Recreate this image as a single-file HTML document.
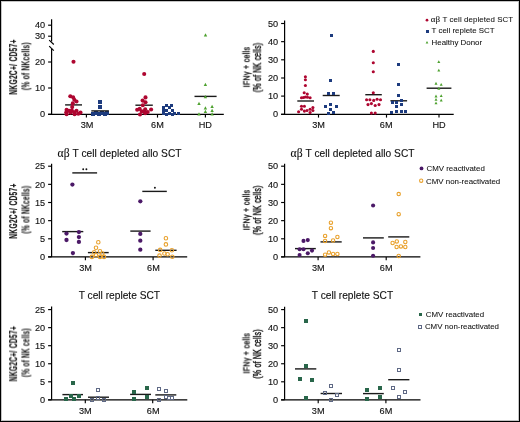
<!DOCTYPE html><html><head><meta charset="utf-8"><style>html,body{margin:0;padding:0;background:#fff;overflow:hidden;width:520px;height:422px;}svg{display:block;}text{font-family:"Liberation Sans", sans-serif;fill:#111;will-change:transform;}</style></head><body>
<svg width="520" height="422" viewBox="0 0 520 422">
<rect x="0" y="0" width="520" height="422" fill="#fff"/>
<rect x="1.5" y="1.5" width="517" height="419" fill="none" stroke="#c4c4c4" stroke-width="1"/>
<rect x="0.5" y="0.5" width="519" height="421" fill="none" stroke="#000" stroke-width="1"/>
<line x1="51.6" y1="19.3" x2="51.6" y2="41.4" stroke="#000" stroke-width="1.2"/>
<line x1="51.6" y1="48.8" x2="51.6" y2="114.3" stroke="#000" stroke-width="1.2"/>
<line x1="48.1" y1="25.2" x2="51.6" y2="25.2" stroke="#000" stroke-width="1.15"/>
<text transform="translate(45.2,28.349999999999998) scale(1.08,1)" font-size="8.5" text-anchor="end" stroke="#111" stroke-width="0.12">40</text>
<line x1="48.1" y1="36.2" x2="51.6" y2="36.2" stroke="#000" stroke-width="1.15"/>
<text transform="translate(45.2,39.35) scale(1.08,1)" font-size="8.5" text-anchor="end" stroke="#111" stroke-width="0.12">30</text>
<line x1="48.1" y1="62.0" x2="51.6" y2="62.0" stroke="#000" stroke-width="1.15"/>
<text transform="translate(45.2,65.15) scale(1.08,1)" font-size="8.5" text-anchor="end" stroke="#111" stroke-width="0.12">20</text>
<line x1="48.1" y1="88.0" x2="51.6" y2="88.0" stroke="#000" stroke-width="1.15"/>
<text transform="translate(45.2,91.15) scale(1.08,1)" font-size="8.5" text-anchor="end" stroke="#111" stroke-width="0.12">10</text>
<line x1="48.1" y1="114.3" x2="51.6" y2="114.3" stroke="#000" stroke-width="1.15"/>
<text transform="translate(45.2,117.45) scale(1.08,1)" font-size="8.5" text-anchor="end" stroke="#111" stroke-width="0.12">0</text>
<line x1="49.2" y1="40.1" x2="53.8" y2="44.5" stroke="#000" stroke-width="1.15"/>
<line x1="49.2" y1="46.2" x2="53.8" y2="50.6" stroke="#000" stroke-width="1.15"/>
<line x1="48.1" y1="114.3" x2="223.8" y2="114.3" stroke="#000" stroke-width="1.35"/>
<line x1="86.4" y1="114.3" x2="86.4" y2="117.6" stroke="#000" stroke-width="1.15"/>
<line x1="157.5" y1="114.3" x2="157.5" y2="117.6" stroke="#000" stroke-width="1.15"/>
<line x1="205.4" y1="114.3" x2="205.4" y2="117.6" stroke="#000" stroke-width="1.15"/>
<text transform="translate(87.0,128.0) scale(1.08,1)" font-size="8.5" text-anchor="middle" stroke="#111" stroke-width="0.12">3M</text>
<text transform="translate(157.4,128.0) scale(1.08,1)" font-size="8.5" text-anchor="middle" stroke="#111" stroke-width="0.12">6M</text>
<text transform="translate(205.3,128.0) scale(1.08,1)" font-size="8.5" text-anchor="middle" stroke="#111" stroke-width="0.12">HD</text>
<text transform="translate(17.1,66.9) rotate(-90)" x="0" y="0" font-size="10.0" letter-spacing="0.5" font-weight="bold" stroke="#111" stroke-width="0.2" text-anchor="middle" textLength="55.5" lengthAdjust="spacingAndGlyphs">NKG2C+/ CD57+</text>
<text transform="translate(29.4,66.2) rotate(-90)" x="0" y="0" font-size="10.4" letter-spacing="0.3" font-weight="bold" stroke="#111" stroke-width="0.05" text-anchor="middle" textLength="48.0" lengthAdjust="spacingAndGlyphs">(% of NKcells)</text>
<line x1="65.1" y1="104.9" x2="82.0" y2="104.9" stroke="#1a1a1a" stroke-width="1.4"/>
<line x1="135.4" y1="105.2" x2="152.8" y2="105.2" stroke="#1a1a1a" stroke-width="1.4"/>
<line x1="194.5" y1="96.4" x2="216.6" y2="96.4" stroke="#1a1a1a" stroke-width="1.4"/>
<circle cx="73.5" cy="61.8" r="2.05" fill="#ae0630"/>
<circle cx="70.3" cy="96.3" r="2.05" fill="#ae0630"/>
<circle cx="73.1" cy="97.2" r="2.05" fill="#ae0630"/>
<circle cx="74.3" cy="99.7" r="2.05" fill="#ae0630"/>
<circle cx="76.5" cy="101.5" r="2.05" fill="#ae0630"/>
<circle cx="72.8" cy="103.4" r="2.05" fill="#ae0630"/>
<circle cx="72.2" cy="107.1" r="2.05" fill="#ae0630"/>
<circle cx="66.6" cy="109.8" r="2.05" fill="#ae0630"/>
<circle cx="69.1" cy="110.8" r="2.05" fill="#ae0630"/>
<circle cx="71.8" cy="110.5" r="2.05" fill="#ae0630"/>
<circle cx="76.5" cy="110.8" r="2.05" fill="#ae0630"/>
<circle cx="66.3" cy="112.3" r="2.05" fill="#ae0630"/>
<circle cx="70.6" cy="112.6" r="2.05" fill="#ae0630"/>
<circle cx="74.3" cy="112.3" r="2.05" fill="#ae0630"/>
<circle cx="80.5" cy="112.6" r="2.05" fill="#ae0630"/>
<circle cx="66.6" cy="114.2" r="2.05" fill="#ae0630"/>
<circle cx="74.6" cy="114.2" r="2.05" fill="#ae0630"/>
<circle cx="78.3" cy="113.8" r="2.05" fill="#ae0630"/>
<rect x="98" y="100" width="4" height="4" fill="#1d3b7e"/>
<rect x="98" y="105" width="4" height="4" fill="#1d3b7e"/>
<rect x="91" y="112" width="4" height="4" fill="#1d3b7e"/>
<rect x="94" y="111" width="4" height="4" fill="#1d3b7e"/>
<rect x="97" y="112" width="4" height="4" fill="#1d3b7e"/>
<rect x="100" y="111" width="4" height="4" fill="#1d3b7e"/>
<rect x="103" y="112" width="4" height="4" fill="#1d3b7e"/>
<rect x="105" y="111" width="4" height="4" fill="#1d3b7e"/>
<line x1="91.3" y1="110.9" x2="108.9" y2="110.9" stroke="#1a1a1a" stroke-width="1.4"/>
<circle cx="144.2" cy="74.0" r="2.05" fill="#ae0630"/>
<circle cx="145.5" cy="97.4" r="2.05" fill="#ae0630"/>
<circle cx="142.6" cy="100.6" r="2.05" fill="#ae0630"/>
<circle cx="145.5" cy="102.2" r="2.05" fill="#ae0630"/>
<circle cx="142.8" cy="105.2" r="2.05" fill="#ae0630"/>
<circle cx="137.2" cy="109.8" r="2.05" fill="#ae0630"/>
<circle cx="139.7" cy="108.9" r="2.05" fill="#ae0630"/>
<circle cx="145.2" cy="109.2" r="2.05" fill="#ae0630"/>
<circle cx="151.1" cy="109.5" r="2.05" fill="#ae0630"/>
<circle cx="141.8" cy="111.4" r="2.05" fill="#ae0630"/>
<circle cx="144.3" cy="111.7" r="2.05" fill="#ae0630"/>
<circle cx="147.7" cy="112.0" r="2.05" fill="#ae0630"/>
<circle cx="140.0" cy="114.5" r="2.05" fill="#ae0630"/>
<circle cx="145.2" cy="113.2" r="2.05" fill="#ae0630"/>
<rect x="165" y="104" width="3" height="3" fill="#1d3b7e"/>
<rect x="170" y="104" width="3" height="3" fill="#1d3b7e"/>
<rect x="162" y="106" width="3" height="3" fill="#1d3b7e"/>
<rect x="168" y="106" width="3" height="3" fill="#1d3b7e"/>
<rect x="162" y="109" width="3" height="3" fill="#1d3b7e"/>
<rect x="165" y="109" width="3" height="3" fill="#1d3b7e"/>
<rect x="171" y="109" width="3" height="3" fill="#1d3b7e"/>
<rect x="162" y="112" width="3" height="3" fill="#1d3b7e"/>
<rect x="168" y="112" width="3" height="3" fill="#1d3b7e"/>
<rect x="173" y="112" width="3" height="3" fill="#1d3b7e"/>
<rect x="177" y="112" width="3" height="3" fill="#1d3b7e"/>
<rect x="165" y="113" width="3" height="3" fill="#1d3b7e"/>
<rect x="171" y="113" width="3" height="3" fill="#1d3b7e"/>
<polygon points="205.50,33.16 203.80,36.39 207.20,36.39" fill="#4da12e"/>
<polygon points="205.40,82.86 203.70,86.09 207.10,86.09" fill="#4da12e"/>
<polygon points="205.40,94.96 203.70,98.19 207.10,98.19" fill="#4da12e"/>
<polygon points="199.00,101.86 197.30,105.09 200.70,105.09" fill="#4da12e"/>
<polygon points="205.40,106.16 203.70,109.39 207.10,109.39" fill="#4da12e"/>
<polygon points="205.40,109.86 203.70,113.09 207.10,113.09" fill="#4da12e"/>
<polygon points="212.10,104.66 210.40,107.89 213.80,107.89" fill="#4da12e"/>
<polygon points="212.10,108.66 210.40,111.89 213.80,111.89" fill="#4da12e"/>
<polygon points="199.00,112.36 197.30,115.59 200.70,115.59" fill="#4da12e"/>
<polygon points="212.10,112.36 210.40,115.59 213.80,115.59" fill="#4da12e"/>
<line x1="284.6" y1="20.5" x2="284.6" y2="114.3" stroke="#000" stroke-width="1.2"/>
<line x1="281.1" y1="23.5" x2="284.6" y2="23.5" stroke="#000" stroke-width="1.15"/>
<text transform="translate(278.20000000000005,26.65) scale(1.08,1)" font-size="8.5" text-anchor="end" stroke="#111" stroke-width="0.12">50</text>
<line x1="281.1" y1="41.66" x2="284.6" y2="41.66" stroke="#000" stroke-width="1.15"/>
<text transform="translate(278.20000000000005,44.809999999999995) scale(1.08,1)" font-size="8.5" text-anchor="end" stroke="#111" stroke-width="0.12">40</text>
<line x1="281.1" y1="59.8" x2="284.6" y2="59.8" stroke="#000" stroke-width="1.15"/>
<text transform="translate(278.20000000000005,62.949999999999996) scale(1.08,1)" font-size="8.5" text-anchor="end" stroke="#111" stroke-width="0.12">30</text>
<line x1="281.1" y1="78.0" x2="284.6" y2="78.0" stroke="#000" stroke-width="1.15"/>
<text transform="translate(278.20000000000005,81.15) scale(1.08,1)" font-size="8.5" text-anchor="end" stroke="#111" stroke-width="0.12">20</text>
<line x1="281.1" y1="96.1" x2="284.6" y2="96.1" stroke="#000" stroke-width="1.15"/>
<text transform="translate(278.20000000000005,99.25) scale(1.08,1)" font-size="8.5" text-anchor="end" stroke="#111" stroke-width="0.12">10</text>
<line x1="281.1" y1="114.3" x2="284.6" y2="114.3" stroke="#000" stroke-width="1.15"/>
<text transform="translate(278.20000000000005,117.45) scale(1.08,1)" font-size="8.5" text-anchor="end" stroke="#111" stroke-width="0.12">0</text>
<line x1="281.1" y1="114.3" x2="453.7" y2="114.3" stroke="#000" stroke-width="1.35"/>
<line x1="318.5" y1="114.3" x2="318.5" y2="117.6" stroke="#000" stroke-width="1.15"/>
<line x1="386.5" y1="114.3" x2="386.5" y2="117.6" stroke="#000" stroke-width="1.15"/>
<line x1="439.0" y1="114.3" x2="439.0" y2="117.6" stroke="#000" stroke-width="1.15"/>
<text transform="translate(318.5,128.0) scale(1.08,1)" font-size="8.5" text-anchor="middle" stroke="#111" stroke-width="0.12">3M</text>
<text transform="translate(386.2,128.0) scale(1.08,1)" font-size="8.5" text-anchor="middle" stroke="#111" stroke-width="0.12">6M</text>
<text transform="translate(439.0,128.0) scale(1.08,1)" font-size="8.5" text-anchor="middle" stroke="#111" stroke-width="0.12">HD</text>
<text transform="translate(249.5,67.1) rotate(-90)" x="0" y="0" font-size="9.9" letter-spacing="0.4" stroke="#111" stroke-width="0.42" text-anchor="middle" textLength="40.5" lengthAdjust="spacingAndGlyphs">IFN&#947; + cells</text>
<text transform="translate(261.0,67.5) rotate(-90)" x="0" y="0" font-size="10.4" letter-spacing="0.3" stroke="#111" stroke-width="0.42" text-anchor="middle" textLength="49.5" lengthAdjust="spacingAndGlyphs">(% of NK cells)</text>
<line x1="297.3" y1="101.0" x2="314.0" y2="101.0" stroke="#1a1a1a" stroke-width="1.4"/>
<line x1="322.7" y1="95.5" x2="339.7" y2="95.5" stroke="#1a1a1a" stroke-width="1.4"/>
<line x1="365.3" y1="94.7" x2="381.8" y2="94.7" stroke="#1a1a1a" stroke-width="1.4"/>
<line x1="390.4" y1="100.8" x2="407.1" y2="100.8" stroke="#1a1a1a" stroke-width="1.4"/>
<line x1="426.6" y1="88.2" x2="451.4" y2="88.2" stroke="#1a1a1a" stroke-width="1.4"/>
<circle cx="305.4" cy="76.7" r="1.55" fill="#ae0630"/>
<circle cx="305.4" cy="79.8" r="1.55" fill="#ae0630"/>
<circle cx="305.4" cy="85.5" r="1.55" fill="#ae0630"/>
<circle cx="304.2" cy="92.8" r="1.55" fill="#ae0630"/>
<circle cx="307.3" cy="94.1" r="1.55" fill="#ae0630"/>
<circle cx="301.5" cy="97.8" r="1.55" fill="#ae0630"/>
<circle cx="303.5" cy="97.5" r="1.55" fill="#ae0630"/>
<circle cx="305.4" cy="97.0" r="1.55" fill="#ae0630"/>
<circle cx="307.5" cy="97.3" r="1.55" fill="#ae0630"/>
<circle cx="310.1" cy="97.8" r="1.55" fill="#ae0630"/>
<circle cx="301.5" cy="106.2" r="1.55" fill="#ae0630"/>
<circle cx="304.4" cy="106.2" r="1.55" fill="#ae0630"/>
<circle cx="312.9" cy="107.6" r="1.55" fill="#ae0630"/>
<circle cx="301.5" cy="109.3" r="1.55" fill="#ae0630"/>
<circle cx="304.4" cy="111.1" r="1.55" fill="#ae0630"/>
<circle cx="307.0" cy="110.5" r="1.55" fill="#ae0630"/>
<circle cx="310.1" cy="109.3" r="1.55" fill="#ae0630"/>
<circle cx="312.9" cy="110.5" r="1.55" fill="#ae0630"/>
<circle cx="298.6" cy="111.8" r="1.55" fill="#ae0630"/>
<circle cx="310.1" cy="112.6" r="1.55" fill="#ae0630"/>
<rect x="330" y="34" width="3" height="3" fill="#1d3b7e"/>
<rect x="329" y="79" width="3" height="3" fill="#1d3b7e"/>
<rect x="327" y="92" width="3" height="3" fill="#1d3b7e"/>
<rect x="332" y="92" width="3" height="3" fill="#1d3b7e"/>
<rect x="324" y="105" width="3" height="3" fill="#1d3b7e"/>
<rect x="329" y="103" width="3" height="3" fill="#1d3b7e"/>
<rect x="335" y="105" width="3" height="3" fill="#1d3b7e"/>
<rect x="329" y="108" width="3" height="3" fill="#1d3b7e"/>
<rect x="332" y="111" width="3" height="3" fill="#1d3b7e"/>
<rect x="327" y="112" width="3" height="3" fill="#1d3b7e"/>
<circle cx="373.3" cy="51.4" r="1.55" fill="#ae0630"/>
<circle cx="373.3" cy="62.8" r="1.55" fill="#ae0630"/>
<circle cx="373.3" cy="71.7" r="1.55" fill="#ae0630"/>
<circle cx="373.3" cy="92.8" r="1.55" fill="#ae0630"/>
<circle cx="366.6" cy="99.8" r="1.55" fill="#ae0630"/>
<circle cx="369.9" cy="99.8" r="1.55" fill="#ae0630"/>
<circle cx="373.7" cy="100.4" r="1.55" fill="#ae0630"/>
<circle cx="377.1" cy="99.2" r="1.55" fill="#ae0630"/>
<circle cx="380.5" cy="99.8" r="1.55" fill="#ae0630"/>
<circle cx="368" cy="104.6" r="1.55" fill="#ae0630"/>
<circle cx="371.4" cy="103.6" r="1.55" fill="#ae0630"/>
<circle cx="375.2" cy="105.5" r="1.55" fill="#ae0630"/>
<circle cx="379" cy="104.6" r="1.55" fill="#ae0630"/>
<circle cx="371.4" cy="113.1" r="1.55" fill="#ae0630"/>
<circle cx="375.2" cy="113.1" r="1.55" fill="#ae0630"/>
<rect x="397" y="63" width="3" height="3" fill="#1d3b7e"/>
<rect x="397" y="83" width="3" height="3" fill="#1d3b7e"/>
<rect x="397" y="94" width="3" height="3" fill="#1d3b7e"/>
<rect x="391" y="101" width="3" height="3" fill="#1d3b7e"/>
<rect x="395" y="101" width="3" height="3" fill="#1d3b7e"/>
<rect x="400" y="99" width="3" height="3" fill="#1d3b7e"/>
<rect x="395" y="105" width="3" height="3" fill="#1d3b7e"/>
<rect x="400" y="103" width="3" height="3" fill="#1d3b7e"/>
<rect x="390" y="111" width="3" height="3" fill="#1d3b7e"/>
<rect x="395" y="110" width="3" height="3" fill="#1d3b7e"/>
<rect x="400" y="110" width="3" height="3" fill="#1d3b7e"/>
<rect x="404" y="110" width="3" height="3" fill="#1d3b7e"/>
<polygon points="438.80,60.19 437.30,63.04 440.30,63.04" fill="#4da12e"/>
<polygon points="438.80,68.69 437.30,71.54 440.30,71.54" fill="#4da12e"/>
<polygon points="436.00,81.79 434.50,84.64 437.50,84.64" fill="#4da12e"/>
<polygon points="441.20,82.89 439.70,85.74 442.70,85.74" fill="#4da12e"/>
<polygon points="438.80,86.79 437.30,89.64 440.30,89.64" fill="#4da12e"/>
<polygon points="436.00,94.59 434.50,97.44 437.50,97.44" fill="#4da12e"/>
<polygon points="441.20,94.19 439.70,97.04 442.70,97.04" fill="#4da12e"/>
<polygon points="436.00,97.99 434.50,100.84 437.50,100.84" fill="#4da12e"/>
<polygon points="441.20,98.69 439.70,101.54 442.70,101.54" fill="#4da12e"/>
<polygon points="436.00,101.39 434.50,104.24 437.50,104.24" fill="#4da12e"/>
<circle cx="427.0" cy="20.2" r="1.35" fill="#ae0630"/>
<text x="430.8" y="22.4" font-size="7.9" text-anchor="start" stroke="#111" stroke-width="0.07" letter-spacing="0.08"><tspan font-family="Liberation Serif" font-size="9">&#945;&#946;</tspan> T cell depleted SCT</text>
<rect x="426" y="30" width="3" height="3" fill="#1d3b7e"/>
<text x="431.6" y="33.4" font-size="7.9" text-anchor="start" stroke="#111" stroke-width="0.07">T cell replete SCT</text>
<polygon points="427.00,40.96 425.65,43.53 428.35,43.53" fill="#4da12e"/>
<text x="431.6" y="44.5" font-size="7.9" text-anchor="start" stroke="#111" stroke-width="0.07">Healthy Donor</text>
<text x="119.6" y="156.5" font-size="10.2" text-anchor="middle" stroke="#111" stroke-width="0.12" letter-spacing="0.05"><tspan font-family="Liberation Serif" font-size="11.6">&#945;&#946;</tspan> T cell depleted allo SCT</text>
<line x1="51.6" y1="163.8" x2="51.6" y2="256.9" stroke="#000" stroke-width="1.2"/>
<line x1="48.1" y1="166.2" x2="51.6" y2="166.2" stroke="#000" stroke-width="1.15"/>
<text transform="translate(45.2,169.35) scale(1.08,1)" font-size="8.5" text-anchor="end" stroke="#111" stroke-width="0.12">25</text>
<line x1="48.1" y1="184.35" x2="51.6" y2="184.35" stroke="#000" stroke-width="1.15"/>
<text transform="translate(45.2,187.5) scale(1.08,1)" font-size="8.5" text-anchor="end" stroke="#111" stroke-width="0.12">20</text>
<line x1="48.1" y1="202.5" x2="51.6" y2="202.5" stroke="#000" stroke-width="1.15"/>
<text transform="translate(45.2,205.65) scale(1.08,1)" font-size="8.5" text-anchor="end" stroke="#111" stroke-width="0.12">15</text>
<line x1="48.1" y1="220.65" x2="51.6" y2="220.65" stroke="#000" stroke-width="1.15"/>
<text transform="translate(45.2,223.8) scale(1.08,1)" font-size="8.5" text-anchor="end" stroke="#111" stroke-width="0.12">10</text>
<line x1="48.1" y1="238.8" x2="51.6" y2="238.8" stroke="#000" stroke-width="1.15"/>
<text transform="translate(45.2,241.95000000000002) scale(1.08,1)" font-size="8.5" text-anchor="end" stroke="#111" stroke-width="0.12">5</text>
<line x1="48.1" y1="256.9" x2="51.6" y2="256.9" stroke="#000" stroke-width="1.15"/>
<text transform="translate(45.2,260.04999999999995) scale(1.08,1)" font-size="8.5" text-anchor="end" stroke="#111" stroke-width="0.12">0</text>
<line x1="48.1" y1="256.9" x2="187.2" y2="256.9" stroke="#000" stroke-width="1.35"/>
<line x1="85.4" y1="256.9" x2="85.4" y2="260.2" stroke="#000" stroke-width="1.15"/>
<line x1="153.1" y1="256.9" x2="153.1" y2="260.2" stroke="#000" stroke-width="1.15"/>
<text transform="translate(85.6,271.3) scale(1.08,1)" font-size="8.5" text-anchor="middle" stroke="#111" stroke-width="0.12">3M</text>
<text transform="translate(153.4,271.3) scale(1.08,1)" font-size="8.5" text-anchor="middle" stroke="#111" stroke-width="0.12">6M</text>
<text transform="translate(17.1,211.0) rotate(-90)" x="0" y="0" font-size="10.0" letter-spacing="0.5" font-weight="bold" stroke="#111" stroke-width="0.2" text-anchor="middle" textLength="55.5" lengthAdjust="spacingAndGlyphs">NKG2C+/ CD57+</text>
<text transform="translate(29.4,209.6) rotate(-90)" x="0" y="0" font-size="10.4" letter-spacing="0.3" font-weight="bold" stroke="#111" stroke-width="0.05" text-anchor="middle" textLength="48.0" lengthAdjust="spacingAndGlyphs">(% of NKcells)</text>
<line x1="62.2" y1="231.6" x2="83.3" y2="231.6" stroke="#1a1a1a" stroke-width="1.4"/>
<line x1="87.9" y1="252.6" x2="108.7" y2="252.6" stroke="#1a1a1a" stroke-width="1.4"/>
<line x1="130.3" y1="231.1" x2="150.6" y2="231.1" stroke="#1a1a1a" stroke-width="1.4"/>
<line x1="155.3" y1="250.3" x2="176.6" y2="250.3" stroke="#1a1a1a" stroke-width="1.4"/>
<line x1="72.3" y1="172.9" x2="97.1" y2="172.9" stroke="#1a1a1a" stroke-width="1.4"/>
<circle cx="83.2" cy="169.2" r="0.95" fill="#111"/>
<circle cx="86.4" cy="169.2" r="0.95" fill="#111"/>
<line x1="142.3" y1="191.4" x2="166.8" y2="191.4" stroke="#1a1a1a" stroke-width="1.4"/>
<circle cx="154.9" cy="187.7" r="0.95" fill="#111"/>
<circle cx="72.4" cy="184.6" r="2.15" fill="#4b1967"/>
<circle cx="66.5" cy="233.6" r="2.15" fill="#4b1967"/>
<circle cx="66.5" cy="240" r="2.15" fill="#4b1967"/>
<circle cx="78.9" cy="232.1" r="2.15" fill="#4b1967"/>
<circle cx="78.9" cy="237.1" r="2.15" fill="#4b1967"/>
<circle cx="78.9" cy="241.9" r="2.15" fill="#4b1967"/>
<circle cx="72.9" cy="253.1" r="2.15" fill="#4b1967"/>
<circle cx="98.3" cy="242.3" r="1.75" fill="none" stroke="#e9a12c" stroke-width="1.1"/>
<circle cx="96" cy="247.7" r="1.75" fill="none" stroke="#e9a12c" stroke-width="1.1"/>
<circle cx="94.2" cy="252.3" r="1.75" fill="none" stroke="#e9a12c" stroke-width="1.1"/>
<circle cx="100" cy="251.2" r="1.75" fill="none" stroke="#e9a12c" stroke-width="1.1"/>
<circle cx="91.9" cy="256.9" r="1.75" fill="none" stroke="#e9a12c" stroke-width="1.1"/>
<circle cx="96" cy="255.2" r="1.75" fill="none" stroke="#e9a12c" stroke-width="1.1"/>
<circle cx="100" cy="256.9" r="1.75" fill="none" stroke="#e9a12c" stroke-width="1.1"/>
<circle cx="104" cy="256.9" r="1.75" fill="none" stroke="#e9a12c" stroke-width="1.1"/>
<circle cx="102.3" cy="253.5" r="1.75" fill="none" stroke="#e9a12c" stroke-width="1.1"/>
<circle cx="140.3" cy="201.3" r="2.15" fill="#4b1967"/>
<circle cx="140.3" cy="233.9" r="2.15" fill="#4b1967"/>
<circle cx="140.3" cy="240.7" r="2.15" fill="#4b1967"/>
<circle cx="140.3" cy="249.7" r="2.15" fill="#4b1967"/>
<circle cx="165.9" cy="238.2" r="1.75" fill="none" stroke="#e9a12c" stroke-width="1.1"/>
<circle cx="165.9" cy="244.4" r="1.75" fill="none" stroke="#e9a12c" stroke-width="1.1"/>
<circle cx="160.2" cy="249.9" r="1.75" fill="none" stroke="#e9a12c" stroke-width="1.1"/>
<circle cx="171.9" cy="250.3" r="1.75" fill="none" stroke="#e9a12c" stroke-width="1.1"/>
<circle cx="159.5" cy="255.6" r="1.75" fill="none" stroke="#e9a12c" stroke-width="1.1"/>
<circle cx="164.4" cy="253.5" r="1.75" fill="none" stroke="#e9a12c" stroke-width="1.1"/>
<circle cx="167.6" cy="254.2" r="1.75" fill="none" stroke="#e9a12c" stroke-width="1.1"/>
<circle cx="172.3" cy="256.7" r="1.75" fill="none" stroke="#e9a12c" stroke-width="1.1"/>
<text x="352.6" y="156.5" font-size="10.2" text-anchor="middle" stroke="#111" stroke-width="0.12" letter-spacing="0.05"><tspan font-family="Liberation Serif" font-size="11.6">&#945;&#946;</tspan> T cell depleted allo SCT</text>
<line x1="284.6" y1="163.8" x2="284.6" y2="256.9" stroke="#000" stroke-width="1.2"/>
<line x1="281.1" y1="166.2" x2="284.6" y2="166.2" stroke="#000" stroke-width="1.15"/>
<text transform="translate(278.20000000000005,169.35) scale(1.08,1)" font-size="8.5" text-anchor="end" stroke="#111" stroke-width="0.12">50</text>
<line x1="281.1" y1="184.35" x2="284.6" y2="184.35" stroke="#000" stroke-width="1.15"/>
<text transform="translate(278.20000000000005,187.5) scale(1.08,1)" font-size="8.5" text-anchor="end" stroke="#111" stroke-width="0.12">40</text>
<line x1="281.1" y1="202.5" x2="284.6" y2="202.5" stroke="#000" stroke-width="1.15"/>
<text transform="translate(278.20000000000005,205.65) scale(1.08,1)" font-size="8.5" text-anchor="end" stroke="#111" stroke-width="0.12">30</text>
<line x1="281.1" y1="220.65" x2="284.6" y2="220.65" stroke="#000" stroke-width="1.15"/>
<text transform="translate(278.20000000000005,223.8) scale(1.08,1)" font-size="8.5" text-anchor="end" stroke="#111" stroke-width="0.12">20</text>
<line x1="281.1" y1="238.8" x2="284.6" y2="238.8" stroke="#000" stroke-width="1.15"/>
<text transform="translate(278.20000000000005,241.95000000000002) scale(1.08,1)" font-size="8.5" text-anchor="end" stroke="#111" stroke-width="0.12">10</text>
<line x1="281.1" y1="256.9" x2="284.6" y2="256.9" stroke="#000" stroke-width="1.15"/>
<text transform="translate(278.20000000000005,260.04999999999995) scale(1.08,1)" font-size="8.5" text-anchor="end" stroke="#111" stroke-width="0.12">0</text>
<line x1="281.1" y1="256.9" x2="420.4" y2="256.9" stroke="#000" stroke-width="1.35"/>
<line x1="318.1" y1="256.9" x2="318.1" y2="260.2" stroke="#000" stroke-width="1.15"/>
<line x1="386.2" y1="256.9" x2="386.2" y2="260.2" stroke="#000" stroke-width="1.15"/>
<text transform="translate(318.3,271.3) scale(1.08,1)" font-size="8.5" text-anchor="middle" stroke="#111" stroke-width="0.12">3M</text>
<text transform="translate(386.2,271.3) scale(1.08,1)" font-size="8.5" text-anchor="middle" stroke="#111" stroke-width="0.12">6M</text>
<text transform="translate(249.5,210.0) rotate(-90)" x="0" y="0" font-size="9.9" letter-spacing="0.4" stroke="#111" stroke-width="0.42" text-anchor="middle" textLength="40.5" lengthAdjust="spacingAndGlyphs">IFN&#947; + cells</text>
<text transform="translate(261.0,210.2) rotate(-90)" x="0" y="0" font-size="10.4" letter-spacing="0.3" stroke="#111" stroke-width="0.42" text-anchor="middle" textLength="49.5" lengthAdjust="spacingAndGlyphs">(% of NK cells)</text>
<line x1="295.0" y1="248.6" x2="315.8" y2="248.6" stroke="#1a1a1a" stroke-width="1.4"/>
<line x1="320.5" y1="241.9" x2="341.7" y2="241.9" stroke="#1a1a1a" stroke-width="1.4"/>
<line x1="363.0" y1="237.9" x2="383.8" y2="237.9" stroke="#1a1a1a" stroke-width="1.4"/>
<line x1="388.2" y1="236.9" x2="409.3" y2="236.9" stroke="#1a1a1a" stroke-width="1.4"/>
<circle cx="303.5" cy="240.9" r="2.05" fill="#4b1967"/>
<circle cx="307.8" cy="240.1" r="2.05" fill="#4b1967"/>
<circle cx="299.6" cy="249.3" r="2.05" fill="#4b1967"/>
<circle cx="303.5" cy="249.3" r="2.05" fill="#4b1967"/>
<circle cx="312" cy="250.6" r="2.05" fill="#4b1967"/>
<circle cx="307.8" cy="253.2" r="2.05" fill="#4b1967"/>
<circle cx="299.6" cy="255" r="2.05" fill="#4b1967"/>
<circle cx="330.9" cy="222.7" r="1.7" fill="none" stroke="#e9a12c" stroke-width="1.1"/>
<circle cx="330.9" cy="228.2" r="1.7" fill="none" stroke="#e9a12c" stroke-width="1.1"/>
<circle cx="325.1" cy="235.9" r="1.7" fill="none" stroke="#e9a12c" stroke-width="1.1"/>
<circle cx="337.4" cy="237" r="1.7" fill="none" stroke="#e9a12c" stroke-width="1.1"/>
<circle cx="325.1" cy="240.9" r="1.7" fill="none" stroke="#e9a12c" stroke-width="1.1"/>
<circle cx="333.1" cy="240.5" r="1.7" fill="none" stroke="#e9a12c" stroke-width="1.1"/>
<circle cx="325.1" cy="254.7" r="1.7" fill="none" stroke="#e9a12c" stroke-width="1.1"/>
<circle cx="328.9" cy="252.4" r="1.7" fill="none" stroke="#e9a12c" stroke-width="1.1"/>
<circle cx="333.1" cy="254" r="1.7" fill="none" stroke="#e9a12c" stroke-width="1.1"/>
<circle cx="337.4" cy="254" r="1.7" fill="none" stroke="#e9a12c" stroke-width="1.1"/>
<circle cx="373.1" cy="205.5" r="2.05" fill="#4b1967"/>
<circle cx="373.1" cy="242.4" r="2.05" fill="#4b1967"/>
<circle cx="373.1" cy="248" r="2.05" fill="#4b1967"/>
<circle cx="373.1" cy="255.8" r="2.05" fill="#4b1967"/>
<circle cx="398.7" cy="194.1" r="1.7" fill="none" stroke="#e9a12c" stroke-width="1.1"/>
<circle cx="398.7" cy="214.2" r="1.7" fill="none" stroke="#e9a12c" stroke-width="1.1"/>
<circle cx="392.6" cy="243" r="1.7" fill="none" stroke="#e9a12c" stroke-width="1.1"/>
<circle cx="396.8" cy="241.4" r="1.7" fill="none" stroke="#e9a12c" stroke-width="1.1"/>
<circle cx="405.3" cy="242" r="1.7" fill="none" stroke="#e9a12c" stroke-width="1.1"/>
<circle cx="396.6" cy="247" r="1.7" fill="none" stroke="#e9a12c" stroke-width="1.1"/>
<circle cx="400.9" cy="246.4" r="1.7" fill="none" stroke="#e9a12c" stroke-width="1.1"/>
<circle cx="405.3" cy="247" r="1.7" fill="none" stroke="#e9a12c" stroke-width="1.1"/>
<circle cx="398.7" cy="256" r="1.7" fill="none" stroke="#e9a12c" stroke-width="1.1"/>
<circle cx="421.5" cy="168.4" r="1.9" fill="#4b1967"/>
<text x="426.5" y="170.8" font-size="7.9" text-anchor="start" stroke="#111" stroke-width="0.07">CMV reactivated</text>
<circle cx="421.2" cy="180.7" r="1.65" fill="none" stroke="#e9a12c" stroke-width="1.05"/>
<text x="426.1" y="183.5" font-size="7.9" text-anchor="start" stroke="#111" stroke-width="0.07">CMV non-reactivated</text>
<text x="119.4" y="299.2" font-size="10.2" text-anchor="middle" stroke="#111" stroke-width="0.12">T cell replete SCT</text>
<line x1="51.6" y1="306.5" x2="51.6" y2="399.85" stroke="#000" stroke-width="1.2"/>
<line x1="48.1" y1="309.6" x2="51.6" y2="309.6" stroke="#000" stroke-width="1.15"/>
<text transform="translate(45.2,312.75) scale(1.08,1)" font-size="8.5" text-anchor="end" stroke="#111" stroke-width="0.12">25</text>
<line x1="48.1" y1="327.65" x2="51.6" y2="327.65" stroke="#000" stroke-width="1.15"/>
<text transform="translate(45.2,330.79999999999995) scale(1.08,1)" font-size="8.5" text-anchor="end" stroke="#111" stroke-width="0.12">20</text>
<line x1="48.1" y1="345.7" x2="51.6" y2="345.7" stroke="#000" stroke-width="1.15"/>
<text transform="translate(45.2,348.84999999999997) scale(1.08,1)" font-size="8.5" text-anchor="end" stroke="#111" stroke-width="0.12">15</text>
<line x1="48.1" y1="363.75" x2="51.6" y2="363.75" stroke="#000" stroke-width="1.15"/>
<text transform="translate(45.2,366.9) scale(1.08,1)" font-size="8.5" text-anchor="end" stroke="#111" stroke-width="0.12">10</text>
<line x1="48.1" y1="381.8" x2="51.6" y2="381.8" stroke="#000" stroke-width="1.15"/>
<text transform="translate(45.2,384.95) scale(1.08,1)" font-size="8.5" text-anchor="end" stroke="#111" stroke-width="0.12">5</text>
<line x1="48.1" y1="399.85" x2="51.6" y2="399.85" stroke="#000" stroke-width="1.15"/>
<text transform="translate(45.2,403.0) scale(1.08,1)" font-size="8.5" text-anchor="end" stroke="#111" stroke-width="0.12">0</text>
<line x1="48.1" y1="399.85" x2="187.3" y2="399.85" stroke="#000" stroke-width="1.35"/>
<line x1="85.3" y1="399.85" x2="85.3" y2="403.15000000000003" stroke="#000" stroke-width="1.15"/>
<line x1="152.7" y1="399.85" x2="152.7" y2="403.15000000000003" stroke="#000" stroke-width="1.15"/>
<text transform="translate(85.3,413.7) scale(1.08,1)" font-size="8.5" text-anchor="middle" stroke="#111" stroke-width="0.12">3M</text>
<text transform="translate(153.2,413.7) scale(1.08,1)" font-size="8.5" text-anchor="middle" stroke="#111" stroke-width="0.12">6M</text>
<text transform="translate(17.1,353.6) rotate(-90)" x="0" y="0" font-size="10.0" letter-spacing="0.5" font-weight="bold" stroke="#111" stroke-width="0.2" text-anchor="middle" textLength="55.4" lengthAdjust="spacingAndGlyphs">NKG2C+/ CD57+</text>
<text transform="translate(29.4,352.6) rotate(-90)" x="0" y="0" font-size="10.3" letter-spacing="0.3" font-weight="bold" stroke="#111" stroke-width="0.05" text-anchor="middle" textLength="48.8" lengthAdjust="spacingAndGlyphs">(% of NK cells)</text>
<line x1="62.4" y1="394.6" x2="83.0" y2="394.6" stroke="#1a1a1a" stroke-width="1.4"/>
<line x1="88.0" y1="397.2" x2="109.0" y2="397.2" stroke="#1a1a1a" stroke-width="1.4"/>
<line x1="130.1" y1="394.4" x2="151.0" y2="394.4" stroke="#1a1a1a" stroke-width="1.4"/>
<line x1="155.3" y1="394.9" x2="176.3" y2="394.9" stroke="#1a1a1a" stroke-width="1.4"/>
<rect x="71" y="381" width="4" height="4" fill="#29664a"/>
<rect x="69" y="394" width="4" height="4" fill="#29664a"/>
<rect x="77" y="394" width="4" height="4" fill="#29664a"/>
<rect x="64" y="397" width="4" height="4" fill="#29664a"/>
<rect x="72" y="397" width="4" height="4" fill="#29664a"/>
<rect x="96.5" y="388.5" width="3" height="3" fill="none" stroke="#5f6985" stroke-width="1"/>
<rect x="90.5" y="398.5" width="3" height="3" fill="none" stroke="#5f6985" stroke-width="1"/>
<rect x="96.5" y="396.5" width="3" height="3" fill="none" stroke="#5f6985" stroke-width="1"/>
<rect x="102.5" y="398.5" width="3" height="3" fill="none" stroke="#5f6985" stroke-width="1"/>
<rect x="145" y="386" width="4" height="4" fill="#29664a"/>
<rect x="132" y="390" width="4" height="4" fill="#29664a"/>
<rect x="145" y="395" width="4" height="4" fill="#29664a"/>
<rect x="132" y="397" width="4" height="4" fill="#29664a"/>
<rect x="157.5" y="387.5" width="3" height="3" fill="none" stroke="#5f6985" stroke-width="1"/>
<rect x="164.5" y="389.5" width="3" height="3" fill="none" stroke="#5f6985" stroke-width="1"/>
<rect x="164.5" y="395.5" width="3" height="3" fill="none" stroke="#5f6985" stroke-width="1"/>
<rect x="157.5" y="398.5" width="3" height="3" fill="none" stroke="#5f6985" stroke-width="1"/>
<rect x="167.5" y="396.5" width="3" height="3" fill="none" stroke="#5f6985" stroke-width="1"/>
<rect x="170.5" y="396.5" width="3" height="3" fill="none" stroke="#5f6985" stroke-width="1"/>
<text x="352.45" y="299.4" font-size="10.2" text-anchor="middle" stroke="#111" stroke-width="0.12">T cell replete SCT</text>
<line x1="284.6" y1="306.8" x2="284.6" y2="399.85" stroke="#000" stroke-width="1.2"/>
<line x1="281.1" y1="309.6" x2="284.6" y2="309.6" stroke="#000" stroke-width="1.15"/>
<text transform="translate(278.20000000000005,312.75) scale(1.08,1)" font-size="8.5" text-anchor="end" stroke="#111" stroke-width="0.12">50</text>
<line x1="281.1" y1="327.65" x2="284.6" y2="327.65" stroke="#000" stroke-width="1.15"/>
<text transform="translate(278.20000000000005,330.79999999999995) scale(1.08,1)" font-size="8.5" text-anchor="end" stroke="#111" stroke-width="0.12">40</text>
<line x1="281.1" y1="345.7" x2="284.6" y2="345.7" stroke="#000" stroke-width="1.15"/>
<text transform="translate(278.20000000000005,348.84999999999997) scale(1.08,1)" font-size="8.5" text-anchor="end" stroke="#111" stroke-width="0.12">30</text>
<line x1="281.1" y1="363.75" x2="284.6" y2="363.75" stroke="#000" stroke-width="1.15"/>
<text transform="translate(278.20000000000005,366.9) scale(1.08,1)" font-size="8.5" text-anchor="end" stroke="#111" stroke-width="0.12">20</text>
<line x1="281.1" y1="381.8" x2="284.6" y2="381.8" stroke="#000" stroke-width="1.15"/>
<text transform="translate(278.20000000000005,384.95) scale(1.08,1)" font-size="8.5" text-anchor="end" stroke="#111" stroke-width="0.12">10</text>
<line x1="281.1" y1="399.85" x2="284.6" y2="399.85" stroke="#000" stroke-width="1.15"/>
<text transform="translate(278.20000000000005,403.0) scale(1.08,1)" font-size="8.5" text-anchor="end" stroke="#111" stroke-width="0.12">0</text>
<line x1="281.1" y1="399.85" x2="420.5" y2="399.85" stroke="#000" stroke-width="1.35"/>
<line x1="318.2" y1="399.85" x2="318.2" y2="403.15000000000003" stroke="#000" stroke-width="1.15"/>
<line x1="385.9" y1="399.85" x2="385.9" y2="403.15000000000003" stroke="#000" stroke-width="1.15"/>
<text transform="translate(318.2,413.7) scale(1.08,1)" font-size="8.5" text-anchor="middle" stroke="#111" stroke-width="0.12">3M</text>
<text transform="translate(385.9,413.7) scale(1.08,1)" font-size="8.5" text-anchor="middle" stroke="#111" stroke-width="0.12">6M</text>
<text transform="translate(249.5,353.3) rotate(-90)" x="0" y="0" font-size="9.9" letter-spacing="0.4" stroke="#111" stroke-width="0.42" text-anchor="middle" textLength="40.5" lengthAdjust="spacingAndGlyphs">IFN&#947; + cells</text>
<text transform="translate(261.0,353.9) rotate(-90)" x="0" y="0" font-size="10.4" letter-spacing="0.3" stroke="#111" stroke-width="0.42" text-anchor="middle" textLength="49.5" lengthAdjust="spacingAndGlyphs">(% of NK cells)</text>
<line x1="295.0" y1="368.9" x2="316.3" y2="368.9" stroke="#1a1a1a" stroke-width="1.4"/>
<line x1="320.6" y1="393.5" x2="342.0" y2="393.5" stroke="#1a1a1a" stroke-width="1.4"/>
<line x1="363.0" y1="393.6" x2="383.8" y2="393.6" stroke="#1a1a1a" stroke-width="1.4"/>
<line x1="388.2" y1="379.7" x2="409.4" y2="379.7" stroke="#1a1a1a" stroke-width="1.4"/>
<rect x="304" y="319" width="4" height="4" fill="#29664a"/>
<rect x="304" y="364" width="4" height="4" fill="#29664a"/>
<rect x="298" y="377" width="4" height="4" fill="#29664a"/>
<rect x="310" y="378" width="4" height="4" fill="#29664a"/>
<rect x="304" y="396" width="4" height="4" fill="#29664a"/>
<rect x="329.5" y="384.5" width="3" height="3" fill="none" stroke="#5f6985" stroke-width="1"/>
<rect x="323.5" y="391.5" width="3" height="3" fill="none" stroke="#5f6985" stroke-width="1"/>
<rect x="335.5" y="393.5" width="3" height="3" fill="none" stroke="#5f6985" stroke-width="1"/>
<rect x="329.5" y="398.5" width="3" height="3" fill="none" stroke="#5f6985" stroke-width="1"/>
<rect x="365" y="388" width="4" height="4" fill="#29664a"/>
<rect x="378" y="386" width="4" height="4" fill="#29664a"/>
<rect x="365" y="397" width="4" height="4" fill="#29664a"/>
<rect x="378" y="395" width="4" height="4" fill="#29664a"/>
<rect x="397.5" y="348.5" width="3" height="3" fill="none" stroke="#5f6985" stroke-width="1"/>
<rect x="397.5" y="368.5" width="3" height="3" fill="none" stroke="#5f6985" stroke-width="1"/>
<rect x="391.5" y="386.5" width="3" height="3" fill="none" stroke="#5f6985" stroke-width="1"/>
<rect x="403.5" y="390.5" width="3" height="3" fill="none" stroke="#5f6985" stroke-width="1"/>
<rect x="397.5" y="395.5" width="3" height="3" fill="none" stroke="#5f6985" stroke-width="1"/>
<rect x="419" y="313" width="3" height="3" fill="#29664a"/>
<text x="425.8" y="316.5" font-size="7.9" text-anchor="start" stroke="#111" stroke-width="0.07">CMV reactivated</text>
<rect x="418.5" y="325.5" width="3" height="3" fill="none" stroke="#5f6985" stroke-width="1"/>
<text x="424.9" y="329.2" font-size="7.9" text-anchor="start" stroke="#111" stroke-width="0.07">CMV non-reactivated</text>
</svg></body></html>
